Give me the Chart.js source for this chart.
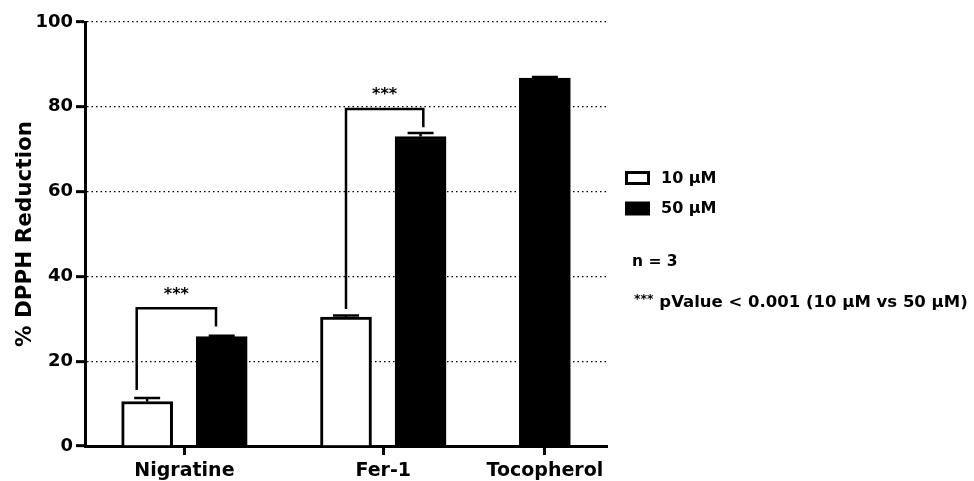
<!DOCTYPE html>
<html>
<head>
<meta charset="utf-8">
<script src="https://cdn.jsdelivr.net/npm/chart.js@4.4.0/dist/chart.umd.min.js"></script>
<style>
  html, body { margin: 0; padding: 0; background: #ffffff; }
  #wrap { width: 974px; height: 481px; position: relative; }
</style>
</head>
<body>
<div id="wrap"><canvas id="chart"></canvas></div>
<script>
// ---------------- data ----------------
const categories = ['Nigratine', 'Fer-1', 'Tocopherol'];
const seriesNames = ['10 µM', '50 µM'];
const values10 = [10.5, 30.4, null];
const sem10 = [0.8, 0.4, null];
const values50 = [25.8, 73.0, 86.8];
const sem50 = [0.2, 0.8, 0.2];
const yTicks = [0, 20, 40, 60, 80, 100];
const yTitle = '% DPPH Reduction';
const sigIndex = [0, 1];            // categories with a significance bracket
const sigBracketTop = [32.5, 79.5];
const sigLeftEnd = [13.2, 32.3];
const sigRightEnd = [28.2, 75.2];
const sigLabel = '***';
const nNote = 'n = 3';
const pNoteStars = '***';
const pNoteText = ' pValue < 0.001 (10 µM vs 50 µM)';

// ---------------- layout (not data) ----------------
const groupCenters = [4, 12, 18.5];
const pairOffset = 1.5;
const X_MAX = 21;
const sigLeftShift = [-0.42, 0];
const sigRightShift = [-0.23, 0.11];
const FONT = 'DejaVu Sans';

function points(vals, sign, other) {
  return vals.map((v, i) => {
    const paired = v !== null && other[i] !== null;
    return { x: groupCenters[i] + (paired ? sign * pairOffset : 0), y: v };
  });
}

const errorBarPlugin = {
  id: 'errorBars',
  afterDatasetsDraw(chart) {
    const ctx = chart.ctx;
    const yScale = chart.scales.y;
    chart.data.datasets.forEach((ds, di) => {
      const meta = chart.getDatasetMeta(di);
      meta.data.forEach((el, i) => {
        const v = ds.data[i].y, s = ds.sem[i];
        if (v === null || s === null) return;
        const yTop = yScale.getPixelForValue(v + s);
        const yVal = yScale.getPixelForValue(v);
        ctx.save();
        ctx.strokeStyle = '#000';
        ctx.lineWidth = 2.5;
        ctx.beginPath();
        ctx.moveTo(el.x, yVal);
        ctx.lineTo(el.x, yTop);
        ctx.moveTo(el.x - 13, yTop);
        ctx.lineTo(el.x + 13, yTop);
        ctx.stroke();
        ctx.restore();
      });
    });
  }
};

const bracketPlugin = {
  id: 'brackets',
  afterDatasetsDraw(chart) {
    const ctx = chart.ctx;
    const xs = chart.scales.x, ys = chart.scales.y;
    sigIndex.forEach((ci, k) => {
      const d0 = chart.data.datasets[0].data[ci];
      const d1 = chart.data.datasets[1].data[ci];
      const xl = xs.getPixelForValue(d0.x + sigLeftShift[k]);
      const xr = xs.getPixelForValue(d1.x + sigRightShift[k]);
      const yt = ys.getPixelForValue(sigBracketTop[k]);
      const yl = ys.getPixelForValue(sigLeftEnd[k]);
      const yr = ys.getPixelForValue(sigRightEnd[k]);
      ctx.save();
      ctx.strokeStyle = '#000';
      ctx.lineWidth = 2.5;
      ctx.lineJoin = 'miter';
      ctx.beginPath();
      ctx.moveTo(xl, yl);
      ctx.lineTo(xl, yt);
      ctx.lineTo(xr, yt);
      ctx.lineTo(xr, yr);
      ctx.stroke();
      ctx.fillStyle = '#000';
      ctx.font = 'bold 16px "' + FONT + '"';
      ctx.textAlign = 'center';
      ctx.textBaseline = 'alphabetic';
      ctx.fillText(sigLabel, (xl + xr) / 2, yt - 9.5);
      ctx.restore();
    });
  }
};

const legendPlugin = {
  id: 'sideNotes',
  afterDraw(chart) {
    const ctx = chart.ctx;
    const L = chart.chartArea.right + 18;
    ctx.save();
    // legend boxes
    ctx.fillStyle = '#fff';
    ctx.fillRect(L, 171, 25, 14);
    ctx.strokeStyle = '#000';
    ctx.lineWidth = 3;
    ctx.strokeRect(L + 1.5, 172.5, 22, 11);
    ctx.fillStyle = '#000';
    ctx.fillRect(L, 201.5, 25, 14);
    ctx.font = 'bold 16px "' + FONT + '"';
    ctx.textAlign = 'left';
    ctx.textBaseline = 'middle';
    ctx.fillText(seriesNames[0], L + 36, 178.5);
    ctx.fillText(seriesNames[1], L + 36, 208.5);
    ctx.font = 'bold 15.5px "' + FONT + '"';
    ctx.fillText(nNote, L + 7, 262);
    ctx.font = 'bold 12.5px "' + FONT + '"';
    ctx.textBaseline = 'middle';
    ctx.fillText(pNoteStars, L + 9, 299.5);
    const sw = ctx.measureText(pNoteStars).width;
    ctx.font = 'bold 16.5px "' + FONT + '"';
    ctx.fillText(pNoteText, L + 9 + sw, 302.5);
    ctx.restore();
  }
};

Chart.defaults.font.family = FONT;
Chart.defaults.color = '#000';

new Chart(document.getElementById('chart'), {
  type: 'bar',
  data: {
    datasets: [
      {
        label: seriesNames[0],
        data: points(values10, -1, values50),
        sem: sem10,
        backgroundColor: '#ffffff',
        borderColor: '#000000',
        borderWidth: 3
      },
      {
        label: seriesNames[1],
        data: points(values50, 1, values10),
        sem: sem50,
        backgroundColor: '#000000',
        borderColor: '#000000',
        borderWidth: 3
      }
    ]
  },
  options: {
    responsive: true,
    maintainAspectRatio: false,
    animation: false,
    grouped: false,
    barPercentage: 1,
    categoryPercentage: 1,
    maxBarThickness: 51,
    layout: { padding: { top: 22, right: 367, left: 0, bottom: 0 } },
    plugins: { legend: { display: false }, tooltip: { enabled: false } },
    scales: {
      x: {
        type: 'linear',
        min: 0,
        max: X_MAX,
        offset: false,
        afterBuildTicks: s => { s.ticks = groupCenters.map(v => ({ value: v })); },
        afterFit: s => { s.height = 35; },
        ticks: {
          autoSkip: false,
          maxRotation: 0,
          padding: 5,
          color: '#000',
          font: { family: FONT, size: 19, weight: 'bold' },
          callback: (v, i) => categories[i]
        },
        grid: { drawOnChartArea: false, drawTicks: true, tickLength: 9, tickWidth: 3, tickColor: '#000', offset: false },
        border: { display: true, color: '#000', width: 3 }
      },
      y: {
        min: 0,
        max: 100,
        afterBuildTicks: s => { s.ticks = yTicks.map(v => ({ value: v })); },
        afterFit: s => { s.width = 85; },
        ticks: { color: '#000', padding: 3, font: { family: FONT, size: 18, weight: 'bold' } },
        grid: { color: '#000', lineWidth: 1.3, drawTicks: true, tickLength: 9, tickWidth: 3, tickColor: '#000' },
        border: { display: true, color: '#000', width: 3, dash: [1.5, 3] },
        title: {
          display: true,
          text: yTitle,
          color: '#000',
          font: { family: FONT, size: 21.5, weight: 'bold' },
          padding: { top: 13, bottom: 0 }
        }
      }
    }
  },
  plugins: [errorBarPlugin, bracketPlugin, legendPlugin]
});
</script>
</body>
</html>
